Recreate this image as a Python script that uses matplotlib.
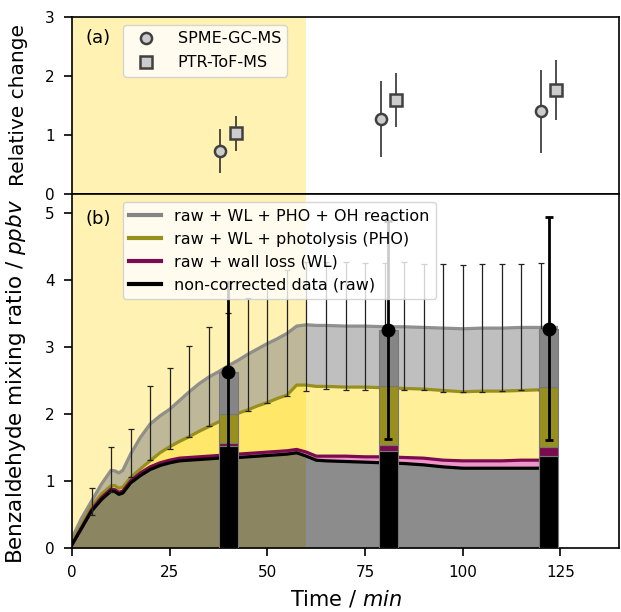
import numpy as np
import matplotlib
matplotlib.use('Agg')
import matplotlib.pyplot as plt
from matplotlib.lines import Line2D

# ---------------- Panel (a) data ----------------
rel_time = [40, 81, 122]
spme_val = [0.73, 1.27, 1.40]
spme_err = [0.37, 0.64, 0.70]
ptr_val = [1.03, 1.59, 1.76]
ptr_err = [0.30, 0.46, 0.51]
legend_a = ['SPME-GC-MS', 'PTR-ToF-MS']

# ---------------- Panel (b) data ----------------
t = [0, 2.5, 5, 7.5, 10, 11, 12, 13, 15, 17.5, 20, 22.5, 25, 27.5, 30, 32.5, 35, 37.5,
     40, 42.5, 45, 47.5, 50, 52.5, 55, 57.5, 60, 62.5, 65, 70, 75, 80, 85, 90, 95, 100,
     105, 110, 115, 120, 124]
raw = [0.05, 0.30, 0.55, 0.72, 0.85, 0.84, 0.80, 0.82, 0.97, 1.08, 1.17, 1.23, 1.27, 1.30,
       1.31, 1.32, 1.33, 1.34, 1.35, 1.35, 1.36, 1.37, 1.38, 1.39, 1.40, 1.42, 1.37, 1.31,
       1.30, 1.29, 1.28, 1.27, 1.26, 1.24, 1.21, 1.19, 1.19, 1.19, 1.19, 1.19, 1.19]
wl = [0.05, 0.31, 0.57, 0.75, 0.88, 0.87, 0.83, 0.85, 1.00, 1.12, 1.21, 1.27, 1.31, 1.34,
      1.35, 1.36, 1.37, 1.38, 1.39, 1.40, 1.41, 1.42, 1.43, 1.44, 1.45, 1.47, 1.43, 1.37,
      1.37, 1.37, 1.36, 1.36, 1.35, 1.34, 1.31, 1.30, 1.30, 1.30, 1.31, 1.31, 1.31]
pho = [0.08, 0.35, 0.62, 0.80, 0.93, 0.93, 0.89, 0.91, 1.05, 1.18, 1.30, 1.42, 1.51, 1.59,
       1.66, 1.74, 1.81, 1.88, 1.95, 2.01, 2.06, 2.12, 2.17, 2.23, 2.28, 2.43, 2.43, 2.41,
       2.41, 2.40, 2.40, 2.39, 2.38, 2.37, 2.35, 2.33, 2.34, 2.34, 2.35, 2.36, 2.37]
oh = [0.15, 0.45, 0.70, 0.95, 1.16, 1.15, 1.12, 1.16, 1.40, 1.65, 1.85, 1.97, 2.07, 2.20,
      2.33, 2.45, 2.55, 2.63, 2.72, 2.80, 2.89, 2.97, 3.05, 3.12, 3.20, 3.31, 3.33, 3.32,
      3.32, 3.31, 3.31, 3.30, 3.30, 3.29, 3.28, 3.27, 3.28, 3.28, 3.29, 3.29, 3.29]

eb_time = [5, 10, 15, 20, 25, 30, 35, 40, 45, 50, 55, 60, 65, 70, 75, 80, 85, 90, 95,
           100, 105, 110, 115, 120]
eb_low = [0.49, 0.84, 1.06, 1.32, 1.47, 1.66, 1.82, 1.95, 2.05, 2.17, 2.27, 2.34, 2.37,
          2.36, 2.36, 2.36, 2.35, 2.35, 2.33, 2.32, 2.33, 2.34, 2.35, 2.35]
eb_high = [0.89, 1.50, 1.77, 2.42, 2.68, 3.02, 3.29, 3.50, 3.73, 3.93, 4.15, 4.27, 4.27,
           4.26, 4.25, 4.25, 4.26, 4.24, 4.23, 4.22, 4.23, 4.24, 4.24, 4.25]

bar_time = [40, 81, 122]
bar_raw = [1.52, 1.45, 1.37]
bar_wl = [1.56, 1.53, 1.51]
bar_pho = [2.00, 2.42, 2.40]
bar_oh = [2.62, 3.25, 3.27]
pt_err = [1.35, 1.63, 1.66]

legend_b = ['raw + WL + PHO + OH reaction', 'raw + WL + photolysis (PHO)',
            'raw + wall loss (WL)', 'non-corrected data (raw)']

# ---------------- colours ----------------
c_gray = '#858585'
c_olive = '#978f1e'
c_purple = '#7a0b50'
c_black = 'black'

fig = plt.figure(figsize=(6.21, 6.12), dpi=100)
W, H = 621, 612
ax1 = fig.add_axes([72 / W, 1 - 194 / H, 547 / W, 177 / H])
ax2 = fig.add_axes([72 / W, 1 - 548 / H, 547 / W, 354 / H])

for ax in (ax1, ax2):
    ax.axvspan(0, 60, color='gold', alpha=0.3, lw=0, zorder=0)
    ax.set_xlim(0, 140)
    for s in ax.spines.values():
        s.set_linewidth(1.2)
    ax.tick_params(labelsize=11, width=1.2, length=6, pad=6.5)

# ---- Panel (a) ----
rt = np.array(rel_time)
mk = dict(ms=8, mfc='#cccccc', mec='#404040', mew=1.8)
ax1.errorbar(rt - 2, spme_val, yerr=spme_err, fmt='o', ecolor='#222222', elinewidth=1.4,
             zorder=3, **mk)
ax1.errorbar(rt + 2, ptr_val, yerr=ptr_err, fmt='s', ecolor='#222222', elinewidth=1.4,
             zorder=3, **mk)
for coll in ax1.collections:
    coll.set_alpha(0.8)
ax1.set_ylim(0, 3)
ax1.set_yticks([0, 1, 2, 3])
ax1.tick_params(axis='x', bottom=False, labelbottom=False)
ax1.set_ylabel('Relative change', fontsize=14.5)
ax1.text(0.025, 0.93, '(a)', transform=ax1.transAxes, fontsize=13, va='top', ha='left')
h_a = [Line2D([], [], ls='none', marker=m, **mk) for m in ('o', 's')]
ax1.legend(h_a, legend_a, loc='upper left', bbox_to_anchor=(0.094, 0.955), borderaxespad=0,
           fontsize=11.5, framealpha=0.8, handletextpad=1.0, labelspacing=0.55)

# ---- Panel (b) ----
ax2.fill_between(t, 0, raw, color='black', alpha=0.45, lw=0, zorder=1)
ax2.fill_between(t, raw, wl, color='#e0409f', alpha=0.55, lw=0, zorder=1)
ax2.fill_between(t, wl, pho, color='gold', alpha=0.4, lw=0, zorder=1)
ax2.fill_between(t, pho, oh, color='gray', alpha=0.5, lw=0, zorder=1)

ax2.plot(t, oh, color=c_gray, lw=2.3, zorder=2, alpha=0.9)
ax2.plot(t, pho, color=c_olive, lw=2.3, zorder=2)
ax2.plot(t, wl, color=c_purple, lw=2.3, zorder=2)
ax2.plot(t, raw, color=c_black, lw=2.3, zorder=2)

eb_low_a = np.array(eb_low)
eb_high_a = np.array(eb_high)
mid = (eb_low_a + eb_high_a) / 2
half = (eb_high_a - eb_low_a) / 2
ax2.errorbar(eb_time, mid, yerr=half, fmt='none', ecolor='#222222', elinewidth=0.9,
             capsize=2.5, capthick=0.9, zorder=3)

bt = np.array(bar_time)
b_raw = np.array(bar_raw)
b_wl = np.array(bar_wl)
b_pho = np.array(bar_pho)
b_oh = np.array(bar_oh)
kw = dict(width=5, edgecolor='#777777', linewidth=0.8, zorder=4)
ax2.bar(bt, b_raw, color='black', **kw)
ax2.bar(bt, b_wl - b_raw, bottom=b_raw, color=c_purple, **kw)
ax2.bar(bt, b_pho - b_wl, bottom=b_wl, color=c_olive, **kw)
ax2.bar(bt, b_oh - b_pho, bottom=b_pho, color=c_gray, **kw)

ax2.errorbar(bt, b_oh, yerr=pt_err, fmt='o', ms=9, color='black', elinewidth=2,
             capsize=3, capthick=2, zorder=5)

ax2.set_ylim(0, 5.28)
ax2.set_yticks([0, 1, 2, 3, 4, 5])
ax2.set_xticks([0, 25, 50, 75, 100, 125])
ax2.set_ylabel(r'Benzaldehyde mixing ratio / $\mathit{ppbv}$', fontsize=15.5)
ax2.set_xlabel(r'Time / $\mathit{min}$', fontsize=15, labelpad=6)
ax2.text(0.025, 0.955, '(b)', transform=ax2.transAxes, fontsize=13, va='top', ha='left')

handles = [Line2D([], [], color=c, lw=3) for c in (c_gray, c_olive, c_purple, c_black)]
leg = ax2.legend(handles, legend_b, loc='upper left', bbox_to_anchor=(0.093, 0.977),
                 borderaxespad=0, fontsize=11.5, framealpha=0.8)
leg.set_zorder(10)

ax1.yaxis.set_label_coords(-0.08, 0.5)
ax2.yaxis.set_label_coords(-0.08, 0.47)

fig.savefig('out.png', dpi=100)
